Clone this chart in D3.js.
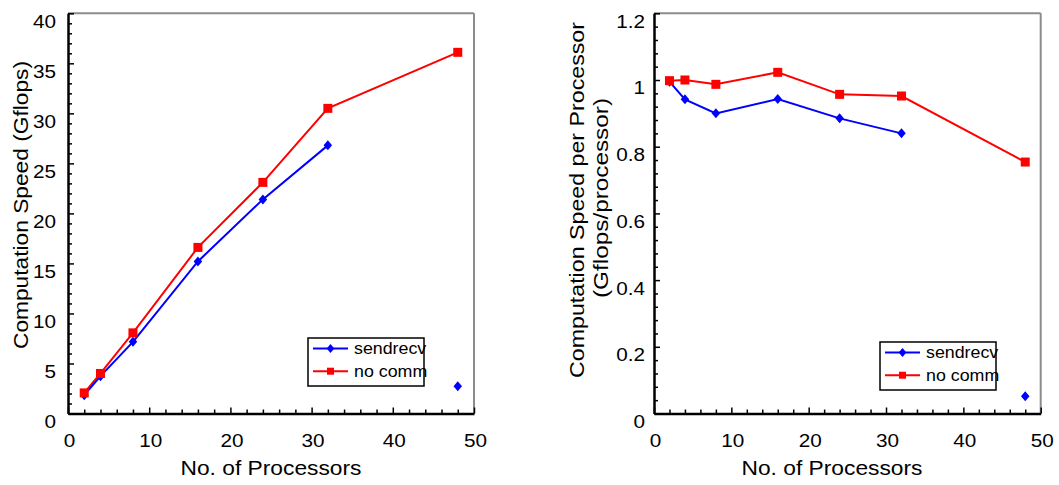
<!DOCTYPE html>
<html lang="en">
<head>
<meta charset="UTF-8">
<title>Computation speed vs processors</title>
<script src="https://cdn.jsdelivr.net/npm/d3@7"></script>
<style>
body{margin:0;background:#fff;}
svg text{font-family:"Liberation Sans",Arial,sans-serif;fill:#000;}
</style>
</head>
<body>
<svg id="chart" width="1059" height="485"></svg>
<script>
// values
var procs=[2,4,8,16,24,32,48];
var speedNoComm=[2.06,4.0,8.06,16.6,23.1,30.5,36.1];
var speedSendrecv=[1.83,3.73,7.16,15.2,21.4,26.8];
var perProcNoComm=[0.998,1.0,0.987,1.023,0.957,0.952,0.754];
var perProcSendrecv=[0.995,0.942,0.900,0.943,0.885,0.840];
// lone sendrecv marker at 48 procs, not joined to the line
var strayProcs=[48];
var straySpeed=[2.73];
var strayPerProc=[0.052];

var xTicks=[0,10,20,30,40,50];
var speedTicks=[0,5,10,15,20,25,30,35,40];
var perProcTicks=[0,0.2,0.4,0.6,0.8,1,1.2];
var seriesNames=["sendrecv","no comm"];
var colors=["#0000ff","#ff0000"];

var svg=d3.select("#chart");
var sx=1.12; // labels in the source are a bit wide

function diamond(g,cx,cy,r,color){
    g.append("path")
     .attr("d","M"+cx+","+(cy-r)+"L"+(cx+r*0.85)+","+cy+"L"+cx+","+(cy+r)+"L"+(cx-r*0.85)+","+cy+"Z")
     .attr("fill",color);
}
function square(g,cx,cy,s,color){
    g.append("rect")
     .attr("x",cx-s/2).attr("y",cy-s/2)
     .attr("width",s).attr("height",s)
     .attr("fill",color);
}

function drawPanel(o){
    var x=d3.scaleLinear().domain([0,50]).range([o.left,o.right]);
    var y=d3.scaleLinear().domain([0,o.yMax]).range([o.bottom,o.top]);
    var g=svg.append("g");

    // gray top/right frame
    g.append("line").attr("x1",o.left).attr("x2",o.right).attr("y1",o.top).attr("y2",o.top)
     .attr("stroke","#8c8c8c").attr("stroke-width",2);
    g.append("line").attr("x1",o.right).attr("x2",o.right).attr("y1",o.top).attr("y2",o.bottom)
     .attr("stroke","#8c8c8c").attr("stroke-width",2);

    // minor ticks
    var xMinor=d3.range(0,51,2).filter(function(v){return v%10!==0;});
    var yMinor=d3.range(0,o.yMax*1.0001/o.yMinor+1).map(function(i){return +(i*o.yMinor).toFixed(3);})
        .filter(function(v){return o.yTicks.indexOf(v)<0 && v<=o.yMax;});
    g.append("g").attr("transform","translate(0,"+o.bottom+")")
     .call(d3.axisBottom(x).tickValues(xMinor).tickSize(-4).tickSizeOuter(0).tickFormat(""))
     .call(function(a){a.select(".domain").remove();a.selectAll("line").attr("stroke-width",1.5);});
    g.append("g").attr("transform","translate("+o.left+",0)")
     .call(d3.axisLeft(y).tickValues(yMinor).tickSize(-4).tickSizeOuter(0).tickFormat(""))
     .call(function(a){a.select(".domain").remove();a.selectAll("line").attr("stroke-width",1.5);});

    // major axes
    var xa=g.append("g").attr("transform","translate(0,"+o.bottom+")")
     .call(d3.axisBottom(x).tickValues(xTicks).tickSize(-6).tickSizeOuter(0).tickPadding(20));
    var ya=g.append("g").attr("transform","translate("+o.left+",0)")
     .call(d3.axisLeft(y).tickValues(o.yTicks).tickSize(-6).tickSizeOuter(0).tickPadding(o.yPad)
        .tickFormat(d3.format("~g")));
    [xa,ya].forEach(function(a){
        a.select(".domain").attr("stroke","#000").attr("stroke-width",2.5);
        a.selectAll(".tick line").attr("stroke","#000").attr("stroke-width",1.5);
        a.selectAll(".tick text").attr("font-size",18.5).attr("fill","#000");
    });
    ya.selectAll(".tick text").attr("x",0)
      .attr("transform","translate("+(-o.yPad)+",8) scale("+sx+",1)");
    xa.selectAll(".tick text").attr("y",0)
      .attr("transform","translate(1,20) scale("+sx+",1)");

    // series
    var line=d3.line().x(function(d){return x(d[0]);}).y(function(d){return y(d[1]);});
    var blue=d3.zip(procs.slice(0,o.blue.length),o.blue);
    var red=d3.zip(procs.slice(0,o.red.length),o.red);
    g.append("path").datum(red).attr("d",line).attr("fill","none")
     .attr("stroke",colors[1]).attr("stroke-width",2);
    g.append("path").datum(blue).attr("d",line).attr("fill","none")
     .attr("stroke",colors[0]).attr("stroke-width",2);
    blue.concat(d3.zip(strayProcs,o.stray)).forEach(function(d){
        diamond(g,x(d[0]),y(d[1]),5,colors[0]);
    });
    red.forEach(function(d){square(g,x(d[0]),y(d[1]),9,colors[1]);});

    // legend
    var lg=g.append("g").attr("transform","translate("+o.legX+","+o.legY+")");
    lg.append("rect").attr("x",0).attr("y",0).attr("width",116).attr("height",48)
     .attr("fill","#fff").attr("stroke","#000").attr("stroke-width",1.5);
    seriesNames.forEach(function(name,i){
        var ry=10.5+i*22.7;
        lg.append("line").attr("x1",5).attr("x2",40).attr("y1",ry).attr("y2",ry)
         .attr("stroke",colors[i]).attr("stroke-width",2);
        if(i===0) diamond(lg,22.5,ry,4.5,colors[i]);
        else square(lg,22.5,ry,7,colors[i]);
        lg.append("text").attr("transform","translate(46,"+ry+") scale(1.08,1)")
         .attr("dy","0.35em").attr("font-size",16.5).text(name);
    });

    // axis titles
    g.append("text").attr("x",o.xTitleX).attr("y",475).attr("text-anchor","middle")
     .attr("font-size",21).attr("textLength",181).attr("lengthAdjust","spacingAndGlyphs")
     .text("No.  of  Processors");
    o.yTitle.forEach(function(t,i){
        g.append("text").attr("transform","translate("+o.yTitleX[i]+","+o.yTitleY[i]+") rotate(-90)")
         .attr("text-anchor","middle").attr("dy","0.35em").attr("font-size",21)
         .attr("textLength",o.yTitleLen[i]).attr("lengthAdjust","spacingAndGlyphs").text(t);
    });
}

drawPanel({left:68,right:474,top:13.3,bottom:413.5,yMax:40,yTicks:speedTicks,yMinor:1,yPad:12,
    red:speedNoComm,blue:speedSendrecv,stray:straySpeed,legX:308,legY:338,
    xTitleX:271,yTitle:["Computation Speed (Gflops)"],yTitleX:[21],yTitleY:[205],yTitleLen:[288]});
drawPanel({left:654,right:1040.7,top:13.3,bottom:413.5,yMax:1.2,yTicks:perProcTicks,yMinor:0.04,yPad:9,
    red:perProcNoComm,blue:perProcSendrecv,stray:strayPerProc,legX:880,legY:342,
    xTitleX:832,yTitle:["Computation Speed per Processor","(Gflops/processor)"],yTitleX:[577,601],
    yTitleY:[200,198],yTitleLen:[356,200]});
</script>
</body>
</html>
